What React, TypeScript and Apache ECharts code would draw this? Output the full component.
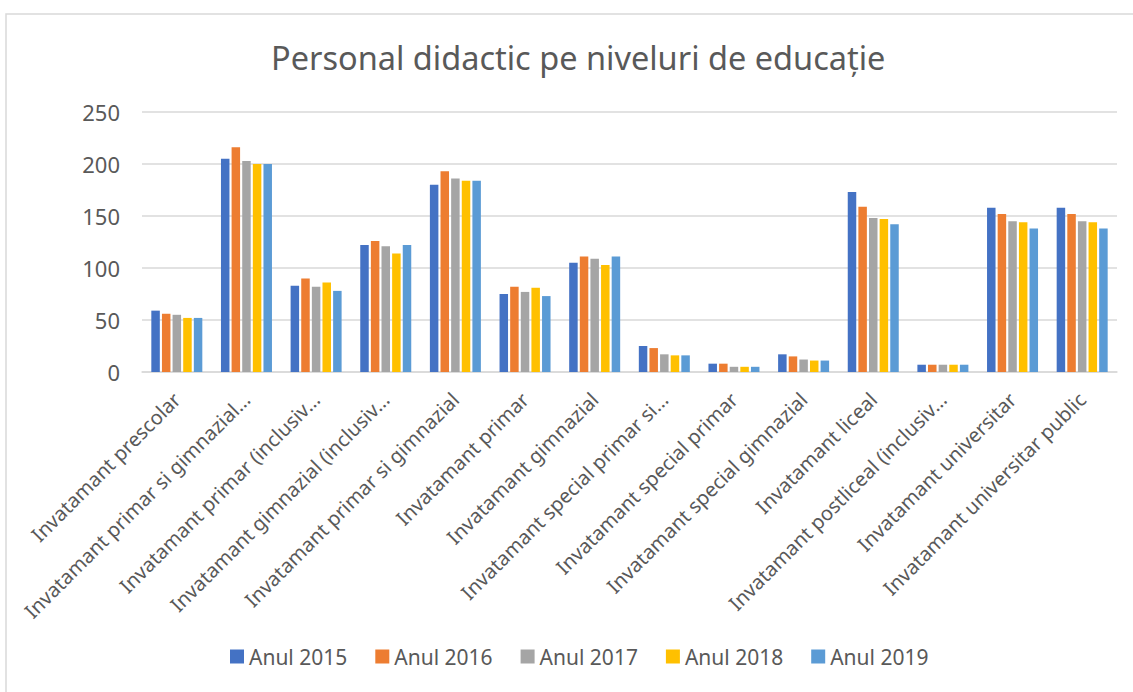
import React, { useEffect, useRef } from "react";
import * as echarts from "echarts";

const categories = [
  "Invatamant prescolar",
  "Invatamant primar si gimnazial (inclusiv special)",
  "Invatamant primar (inclusiv special)",
  "Invatamant gimnazial (inclusiv special)",
  "Invatamant primar si gimnazial",
  "Invatamant primar",
  "Invatamant gimnazial",
  "Invatamant special primar si gimnazial",
  "Invatamant special primar",
  "Invatamant special gimnazial",
  "Invatamant liceal",
  "Invatamant postliceal (inclusiv special)",
  "Invatamant universitar",
  "Invatamant universitar public",
];

const seriesNames = ["Anul 2015", "Anul 2016", "Anul 2017", "Anul 2018", "Anul 2019"];

const anul2015 = [59, 205, 83, 122, 180, 75, 105, 25, 8, 17, 173, 7, 158, 158];
const anul2016 = [56, 216, 90, 126, 193, 82, 111, 23, 8, 15, 159, 7, 152, 152];
const anul2017 = [55, 203, 82, 121, 186, 77, 109, 17, 5, 12, 148, 7, 145, 145];
const anul2018 = [52, 200, 86, 114, 184, 81, 103, 16, 5, 11, 147, 7, 144, 144];
const anul2019 = [52, 200, 78, 122, 184, 73, 111, 16, 5, 11, 142, 7, 138, 138];

const seriesValues = [anul2015, anul2016, anul2017, anul2018, anul2019];
const colors = ["#4472C4", "#ED7D31", "#A5A5A5", "#FFC000", "#5B9BD5"];

const FONT = "Noto Sans";
const TEXT = "#595959";
const MAX_LABEL_CHARS = 31;

function truncateLabel(s: string): string {
  if (s.length <= MAX_LABEL_CHARS) return s;
  const words = s.split(" ");
  let out = "";
  for (const w of words) {
    const next = out ? out + " " + w : w;
    if (next.length > MAX_LABEL_CHARS) break;
    out = next;
  }
  return out + "…";
}

export default function App() {
  const ref = useRef<HTMLDivElement>(null);
  useEffect(() => {
    document.body.style.margin = "0";
    const chart = echarts.init(ref.current!, null, { renderer: "svg" });
    chart.setOption({
      animation: false,
      backgroundColor: "#ffffff",
      title: {
        text: "Personal didactic pe niveluri de educație",
        left: 266,
        top: 36,
        textStyle: { fontFamily: FONT, fontSize: 32.5, fontWeight: "normal", color: TEXT },
      },
      graphic: [
        {
          type: "rect",
          shape: { x: 6, y: 14, width: 1200, height: 800 },
          style: { fill: "none", stroke: "#D9D9D9", lineWidth: 1.5 },
          silent: true,
        },
      ],
      legend: {
        bottom: 20,
        left: 225,
        itemWidth: 14,
        itemHeight: 14,
        itemGap: 28,
        icon: "rect",
        textStyle: { fontFamily: FONT, fontSize: 21, color: TEXT },
        data: seriesNames,
      },
      grid: { left: 142, right: 16, top: 112, bottom: 320, containLabel: false },
      xAxis: {
        type: "category",
        data: categories,
        axisLine: { lineStyle: { color: "#D9D9D9", width: 1.5 } },
        axisTick: { show: false },
        axisLabel: {
          rotate: 45,
          interval: 0,
          margin: 24,
          fontFamily: FONT,
          fontSize: 20,
          color: TEXT,
          formatter: (v: string) => truncateLabel(v),
        },
      },
      yAxis: {
        type: "value",
        min: 0,
        max: 250,
        interval: 50,
        axisLine: { show: false },
        axisTick: { show: false },
        splitLine: { lineStyle: { color: "#D9D9D9", width: 1.5 } },
        axisLabel: { fontFamily: FONT, fontSize: 22, color: TEXT, margin: 22 },
      },
      series: seriesNames.map((name, i) => ({
        name,
        type: "bar",
        data: seriesValues[i],
        barWidth: 8.5,
        barGap: "25%",
        itemStyle: { color: colors[i] },
      })),
    });
    return () => chart.dispose();
  }, []);
  return <div ref={ref} style={{ width: 1133, height: 692 }} />;
}
